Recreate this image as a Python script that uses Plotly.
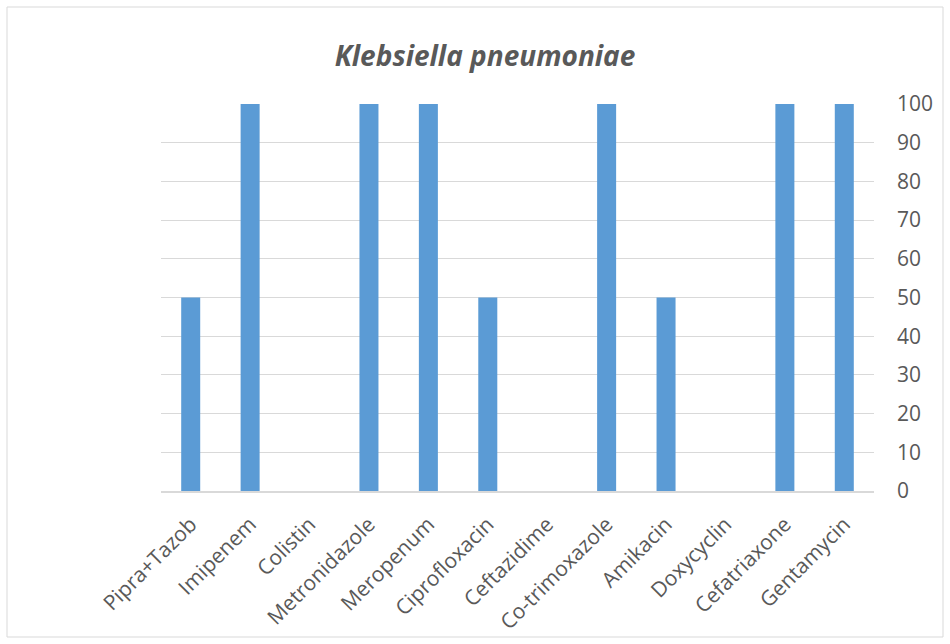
import plotly.graph_objects as go

categories = ["Pipra+Tazob", "Imipenem", "Colistin", "Metronidazole", "Meropenum",
              "Ciprofloxacin", "Ceftazidime", "Co-trimoxazole", "Amikacin", "Doxycyclin",
              "Cefatriaxone", "Gentamycin"]
values = [50, 100, 0, 100, 100, 50, 0, 100, 50, 0, 100, 100]
y_ticks = [0, 10, 20, 30, 40, 50, 60, 70, 80, 90, 100]

W, H = 950, 644
L, R, T, B = 161, 874, 104, 491

fig = go.Figure(go.Bar(x=categories, y=values, marker_color="#5B9BD5",
                       marker_line_width=0, width=0.32))

font_family = "'Open Sans', sans-serif"
fig.update_layout(
    width=W, height=H,
    margin=dict(l=L, r=W - R, t=T, b=H - B),
    plot_bgcolor="white", paper_bgcolor="white",
    showlegend=False,
    title=dict(text="<b><i>Klebsiella pneumoniae</i></b>", x=485 / W, xanchor="center",
               y=1 - 56 / H, yanchor="middle",
               font=dict(family=font_family, size=28, color="#595959")),
)
fig.update_xaxes(tickangle=-45, tickfont=dict(family=font_family, size=21, color="#595959"),
                 showline=True, linecolor="#D9D9D9", linewidth=1.5, showgrid=False,
                 ticks="", ticklabelstandoff=11, automargin=False)
fig.update_yaxes(side="right", range=[0, 100], tickvals=y_ticks, showgrid=True,
                 gridcolor="#D9D9D9", gridwidth=1, zeroline=False, showline=False,
                 tickfont=dict(family=font_family, size=21, color="#595959"),
                 ticklabelstandoff=22, automargin=False)

fig.add_shape(type="rect", xref="paper", yref="paper",
              x0=(7 - L) / (R - L), x1=(943 - L) / (R - L),
              y0=(B - 637) / (B - T), y1=(B - 7) / (B - T),
              line=dict(color="#D9D9D9", width=1), fillcolor="rgba(0,0,0,0)", layer="below")

fig.write_html("out.html")
